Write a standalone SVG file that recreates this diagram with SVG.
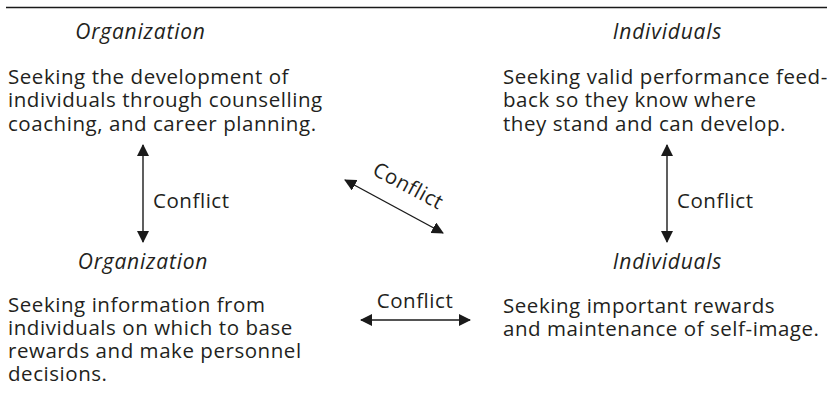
<svg xmlns="http://www.w3.org/2000/svg" width="827" height="406" viewBox="0 0 827 406">
<defs>
<marker id="ah" viewBox="0 0 12 12" refX="11" refY="6" markerWidth="12" markerHeight="12" markerUnits="userSpaceOnUse" orient="auto-start-reverse">
<path d="M0,0 L12,6 L0,12 Z" fill="#1a1a1a"/>
</marker>
</defs>
<style>
text{font-family:"Open Sans","Noto Sans","Liberation Sans",sans-serif;font-size:20.5px;letter-spacing:0.55px;fill:#231f20}
.h{font-style:italic;text-anchor:middle;font-size:21px;letter-spacing:0.8px}
.c{stroke:#1a1a1a;stroke-width:1.4;fill:none;marker-start:url(#ah);marker-end:url(#ah)}
</style>
<rect width="827" height="406" fill="#fff"/>
<line x1="6" y1="7.5" x2="827" y2="7.5" stroke="#1a1a1a" stroke-width="1.4"/>
<g id="org-top">
<text class="h" x="140.5" y="39">Organization</text>
<text x="8" y="83.5">Seeking the development of</text>
<text x="8" y="107">individuals through  counselling</text>
<text x="8" y="130.5">coaching, and career planning.</text>
</g>
<g id="ind-top">
<text class="h" x="667.5" y="39">Individuals</text>
<text x="503" y="83.5">Seeking valid performance feed-</text>
<text x="503" y="107">back so they know where</text>
<text x="503" y="130.5">they stand and can develop.</text>
</g>
<g id="org-bottom">
<text class="h" x="143" y="269">Organization</text>
<text x="8" y="312">Seeking information from</text>
<text x="8" y="335">individuals on which to base</text>
<text x="8" y="358">rewards and make personnel</text>
<text x="8" y="381">decisions.</text>
</g>
<g id="ind-bottom">
<text class="h" x="667.5" y="269">Individuals</text>
<text x="503" y="313">Seeking important rewards</text>
<text x="503" y="336">and maintenance of self-image.</text>
</g>
<g id="connectors">
<line class="c" x1="143" y1="145" x2="143" y2="242"/>
<text x="153" y="208">Conflict</text>
<line class="c" x1="667" y1="145" x2="667" y2="242"/>
<text x="677" y="208">Conflict</text>
<line class="c" x1="345" y1="180" x2="443" y2="233"/>
<text x="0" y="0" text-anchor="middle" transform="translate(405,192) rotate(28)">Conflict</text>
<line class="c" x1="361" y1="320" x2="470" y2="320"/>
<text x="415" y="308" text-anchor="middle">Conflict</text>
</g>
</svg>
